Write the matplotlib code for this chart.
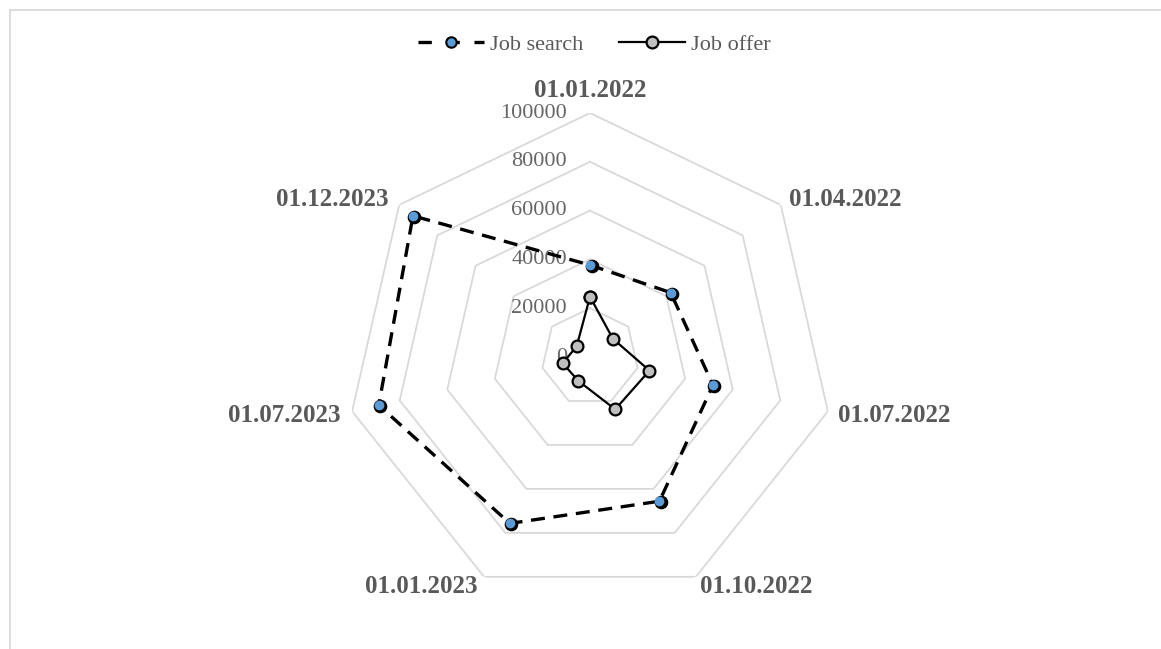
import numpy as np
import matplotlib
matplotlib.use("Agg")
import matplotlib.pyplot as plt
from matplotlib.lines import Line2D
from matplotlib import transforms

categories = ["01.01.2022", "01.04.2022", "01.07.2022", "01.10.2022",
              "01.01.2023", "01.07.2023", "01.12.2023"]
job_search = [37700, 42300, 51700, 65600, 75700, 88800, 92800]
job_offer = [24700, 12000, 25000, 23800, 10900, 11500, 7000]
ring_values = [0, 20000, 40000, 60000, 80000, 100000]
ring_labels = ["0", "20000", "40000", "60000", "80000", "100000"]

plt.rcParams['font.family'] = ['Liberation Serif', 'DejaVu Serif']
TXT = '#595959'
GRID = '#d9d9d9'

W, H = 1161, 649
fig = plt.figure(figsize=(W / 100, H / 100), dpi=100)
cx, cy, R = 590, 357, 244
ax = fig.add_axes([(cx - R) / W, (H - cy - R) / H, 2 * R / W, 2 * R / H],
                  projection='polar')
ax.set_theta_offset(np.pi / 2)
ax.set_theta_direction(-1)
ax.set_ylim(0, 100000)
ax.grid(False)
ax.spines['polar'].set_visible(False)
ax.set_xticks([])
ax.set_yticks([])
ax.patch.set_alpha(0)

n = len(categories)
theta = np.arange(n) * 2 * np.pi / n
theta_c = np.append(theta, theta[0])

# heptagon grid
for v in ring_values[1:]:
    ax.plot(theta_c, [v] * (n + 1), color=GRID, lw=1.3, zorder=1)

# ring labels
for v, lab in zip(ring_values, ring_labels):
    ax.annotate(lab, xy=(0, v), xytext=(-23, 0), textcoords='offset pixels',
                ha='right', va='center', fontsize=16, color='#666666', zorder=2)

# category labels
offsets = [(0, 23, 'center'), (8, 5, 'left'), (10, -4, 'left'), (4, -10, 'left'),
           (-7, -10, 'right'), (-12, -4, 'right'), (-11, 5, 'right')]
for t, lab, (dx, dy, ha) in zip(theta, categories, offsets):
    ax.annotate(lab, xy=(t, 100000), xytext=(dx, dy), textcoords='offset pixels',
                ha=ha, va='center', fontsize=18, fontweight='bold', color=TXT)

# Job search
js_c = job_search + [job_search[0]]
ax.plot(theta_c, js_c, color='black', lw=2.4, linestyle=(0, (4.2, 2.6)), zorder=3)
shift = transforms.offset_copy(ax.transData, fig=fig, x=1.5, y=-1.0, units='dots')
ax.plot(theta, job_search, linestyle='none', marker='o', markersize=8.8,
        markerfacecolor='black', markeredgecolor='black', transform=shift, zorder=4)
ax.plot(theta, job_search, linestyle='none', marker='o', markersize=7.0,
        markerfacecolor='#5b9bd5', markeredgewidth=0, zorder=5)

# Job offer
jo_c = job_offer + [job_offer[0]]
ax.plot(theta_c, jo_c, color='black', lw=1.6, marker='o', markersize=8.5,
        markerfacecolor='#bfbfbf', markeredgecolor='black', markeredgewidth=1.6,
        zorder=6)

# legend
h1 = Line2D([], [], color='black', lw=2.4, linestyle=(0, (4.0, 4.4)), marker='o',
            markersize=7.5, markerfacecolor='#5b9bd5', markeredgecolor='black',
            markeredgewidth=1.5)
h2 = Line2D([], [], color='black', lw=1.6, marker='o', markersize=8.5,
            markerfacecolor='#bfbfbf', markeredgecolor='black', markeredgewidth=1.6)
leg = fig.legend([h1, h2], ["Job search", "Job offer"], loc='center',
                 bbox_to_anchor=(594 / W, 1 - 45 / H), ncol=2, frameon=False,
                 fontsize=16, handlelength=3.0, handletextpad=0.25,
                 columnspacing=1.6, numpoints=1)
for t in leg.get_texts():
    t.set_color(TXT)

# chart border
fig.add_artist(Line2D([10 / W, 1160 / W], [1 - 10 / H, 1 - 10 / H],
                      transform=fig.transFigure, color=GRID, lw=1.3))
fig.add_artist(Line2D([10 / W, 10 / W], [0, 1 - 10 / H],
                      transform=fig.transFigure, color=GRID, lw=1.3))

fig.savefig('out.png', dpi=100)
